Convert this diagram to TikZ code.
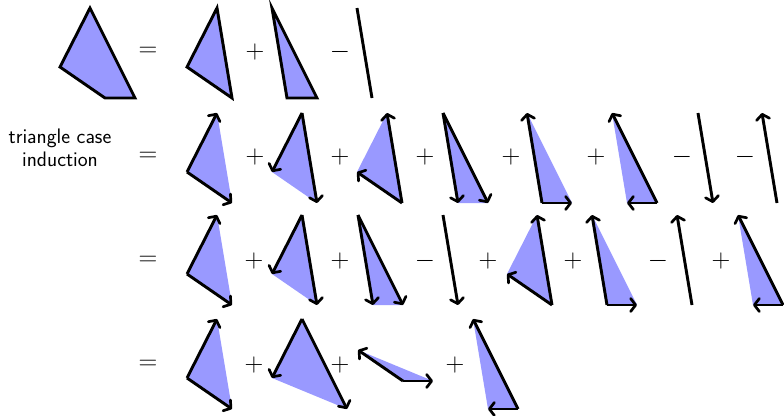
\RequirePackage{fix-cm}
\documentclass[tikz,border=0pt]{standalone}
\usetikzlibrary{arrows.meta}
\tikzset{
  pts/.pic={
    \coordinate (-A) at (0,0);
    \coordinate (-B) at (-30,59);
    \coordinate (-C) at (15,90);
    \coordinate (-D) at (45,90);
  },
  region/.style={fill=blue!40},
  edge/.style={line width=2.9pt, line join=miter},
  arr/.style={edge, -{Straight Barb[length=5pt,width=13pt,line width=2.7pt,round]}},
  op/.style={font=\fontsize{26}{30}\selectfont, inner sep=0pt},
  lbl/.style={font=\sffamily\fontsize{21}{23}\selectfont, align=center, inner sep=0pt},
}
\begin{document}
\begin{tikzpicture}[x=1pt,y=-1pt]
\useasboundingbox (0,0) rectangle (784,415);

% ---------- row 1 ----------
\pic (q) at (90,8) {pts};
\filldraw[region,edge] (q-A) -- (q-B) -- (q-C) -- (q-D) -- cycle;
\node[op] (e1) at (148,52) {$=$};
\pic (a1) at (217,8) {pts};
\filldraw[region,edge] (a1-A) -- (a1-B) -- (a1-C) -- cycle;
\node[op] (p11) at (255,52) {$+$};
\pic (a2) at (272,8) {pts};
\filldraw[region,edge] (a2-A) -- (a2-C) -- (a2-D) -- cycle;
\node[op] (m11) at (340,52) {$-$};
\pic (a3) at (357,8) {pts};
\draw[edge] (a3-A) -- (a3-C);

% ---------- row 2 ----------
\node[lbl] (txt) at (60,148) {triangle case\\induction};
\node[op] (e2) at (148,157) {$=$};
\pic (b1) at (217,113) {pts};
\fill[region] (b1-A) -- (b1-B) -- (b1-C) -- cycle;
\draw[arr] (b1-B) -- (b1-A); \draw[arr] (b1-B) -- (b1-C);
\node[op] (p21) at (255,157) {$+$};
\pic (b2) at (302,113) {pts};
\fill[region] (b2-A) -- (b2-B) -- (b2-C) -- cycle;
\draw[arr] (b2-A) -- (b2-B); \draw[arr] (b2-A) -- (b2-C);
\node[op] (p22) at (340,157) {$+$};
\pic (b3) at (387,113) {pts};
\fill[region] (b3-A) -- (b3-B) -- (b3-C) -- cycle;
\draw[arr] (b3-C) -- (b3-A); \draw[arr] (b3-C) -- (b3-B);
\node[op] (p23) at (425,157) {$+$};
\pic (b4) at (443,113) {pts};
\fill[region] (b4-A) -- (b4-C) -- (b4-D) -- cycle;
\draw[arr] (b4-A) -- (b4-C); \draw[arr] (b4-A) -- (b4-D);
\node[op] (p24) at (511,157) {$+$};
\pic (b5) at (527,113) {pts};
\fill[region] (b5-A) -- (b5-C) -- (b5-D) -- cycle;
\draw[arr] (b5-C) -- (b5-A); \draw[arr] (b5-C) -- (b5-D);
\node[op] (p25) at (596,157) {$+$};
\pic (b6) at (612,113) {pts};
\fill[region] (b6-A) -- (b6-C) -- (b6-D) -- cycle;
\draw[arr] (b6-D) -- (b6-A); \draw[arr] (b6-D) -- (b6-C);
\node[op] (m21) at (682,157) {$-$};
\pic (b7) at (698,113) {pts};
\draw[arr] (b7-A) -- (b7-C);
\node[op] (m22) at (745,157) {$-$};
\pic (b8) at (762,113) {pts};
\draw[arr] (b8-C) -- (b8-A);

% ---------- row 3 ----------
\node[op] (e3) at (148,261) {$=$};
\pic (c1) at (217,215) {pts};
\fill[region] (c1-A) -- (c1-B) -- (c1-C) -- cycle;
\draw[arr] (c1-B) -- (c1-A); \draw[arr] (c1-B) -- (c1-C);
\node[op] (p31) at (254,261) {$+$};
\pic (c2) at (302,215) {pts};
\fill[region] (c2-A) -- (c2-B) -- (c2-C) -- cycle;
\draw[arr] (c2-A) -- (c2-B); \draw[arr] (c2-A) -- (c2-C);
\node[op] (p32) at (340,261) {$+$};
\pic (c3) at (358,215) {pts};
\fill[region] (c3-A) -- (c3-C) -- (c3-D) -- cycle;
\draw[arr] (c3-A) -- (c3-C); \draw[arr] (c3-A) -- (c3-D);
\node[op] (m31) at (425,261) {$-$};
\pic (c4) at (443,215) {pts};
\draw[arr] (c4-A) -- (c4-C);
\node[op] (p33) at (488,261) {$+$};
\pic (c5) at (537,215) {pts};
\fill[region] (c5-A) -- (c5-B) -- (c5-C) -- cycle;
\draw[arr] (c5-C) -- (c5-A); \draw[arr] (c5-C) -- (c5-B);
\node[op] (p34) at (573,261) {$+$};
\pic (c6) at (592,215) {pts};
\fill[region] (c6-A) -- (c6-C) -- (c6-D) -- cycle;
\draw[arr] (c6-C) -- (c6-A); \draw[arr] (c6-C) -- (c6-D);
\node[op] (m32) at (658,261) {$-$};
\pic (c7) at (677,215) {pts};
\draw[arr] (c7-C) -- (c7-A);
\node[op] (p35) at (721,261) {$+$};
\pic (c8) at (738,215) {pts};
\fill[region] (c8-A) -- (c8-C) -- (c8-D) -- cycle;
\draw[arr] (c8-D) -- (c8-A); \draw[arr] (c8-D) -- (c8-C);

% ---------- row 4 ----------
\node[op] (e4) at (148,365) {$=$};
\pic (d1) at (217,319) {pts};
\fill[region] (d1-A) -- (d1-B) -- (d1-C) -- cycle;
\draw[arr] (d1-B) -- (d1-A); \draw[arr] (d1-B) -- (d1-C);
\node[op] (p41) at (254,365) {$+$};
\pic (d2) at (302,319) {pts};
\fill[region] (d2-A) -- (d2-B) -- (d2-D) -- cycle;
\draw[arr] (d2-A) -- (d2-B); \draw[arr] (d2-A) -- (d2-D);
\node[op] (p42) at (340,365) {$+$};
\pic (d3) at (388,291) {pts};
\fill[region] (d3-B) -- (d3-C) -- (d3-D) -- cycle;
\draw[arr] (d3-C) -- (d3-B); \draw[arr] (d3-C) -- (d3-D);
\node[op] (p43) at (455,365) {$+$};
\pic (d4) at (473,319) {pts};
\fill[region] (d4-A) -- (d4-C) -- (d4-D) -- cycle;
\draw[arr] (d4-D) -- (d4-A); \draw[arr] (d4-D) -- (d4-C);
\end{tikzpicture}
\end{document}
